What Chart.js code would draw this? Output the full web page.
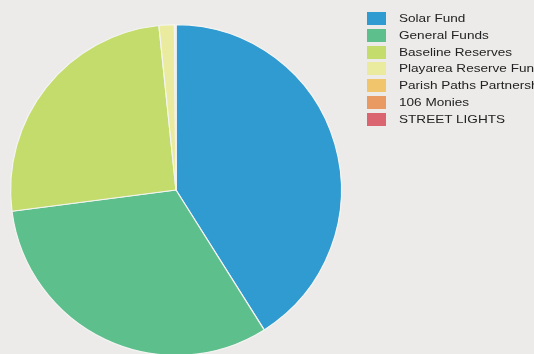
<!DOCTYPE html>
<html>
<head>
<meta charset="utf-8">
<script src="https://cdn.jsdelivr.net/npm/chart.js@4/dist/chart.umd.min.js"></script>
<style>
  html, body { margin:0; padding:0; width:534px; height:354px; overflow:hidden; background:#ecebe9; }
  #wrap { position:relative; width:534px; height:354px; overflow:hidden; }
  #c { position:absolute; left:0; top:0; }
  #legend { position:absolute; left:0; top:0; width:534px; height:354px; pointer-events:none; }
  .row { position:absolute; left:367px; height:17px; white-space:nowrap; }
  .box { position:absolute; left:0; top:2px; width:19px; height:13px; }
  .txt { position:absolute; left:32px; top:0; font-family:"Liberation Sans", Arial, sans-serif; font-size:11.5px; line-height:17px; color:#222; transform:scaleX(1.18); transform-origin:left center; }
</style>
</head>
<body>
<div id="wrap">
  <canvas id="c" width="534" height="360"></canvas>
  <div id="legend"></div>
</div>
<script>
const categories = ["Solar Fund", "General Funds", "Baseline Reserves", "Playarea Reserve Fund", "Parish Paths Partnership", "106 Monies", "STREET LIGHTS"];
const values = [41050, 31900, 25400, 1500, 80, 40, 30];
const colors = ["#2f9bd0", "#5dbf8c", "#c3dc6c", "#ebeb9f", "#f0c56c", "#e89a62", "#da6470"];

const canvas = document.getElementById('c');
canvas.style.width = '534px';
canvas.style.height = '360px';

new Chart(canvas, {
  type: 'pie',
  data: {
    labels: categories,
    datasets: [{
      data: values,
      backgroundColor: colors,
      borderColor: '#f4f4f2',
      borderWidth: 1.2
    }]
  },
  options: {
    responsive: false,
    animation: false,
    layout: { padding: { left: 10, right: 192, top: 24, bottom: 4 } },
    plugins: { legend: { display: false }, tooltip: { enabled: false } }
  }
});

const legend = document.getElementById('legend');
categories.forEach((name, i) => {
  const row = document.createElement('div');
  row.className = 'row';
  row.style.top = (10 + i * 16.8) + 'px';
  const box = document.createElement('div');
  box.className = 'box';
  box.style.background = colors[i];
  const txt = document.createElement('div');
  txt.className = 'txt';
  txt.textContent = name;
  row.appendChild(box);
  row.appendChild(txt);
  legend.appendChild(row);
});
</script>
</body>
</html>
